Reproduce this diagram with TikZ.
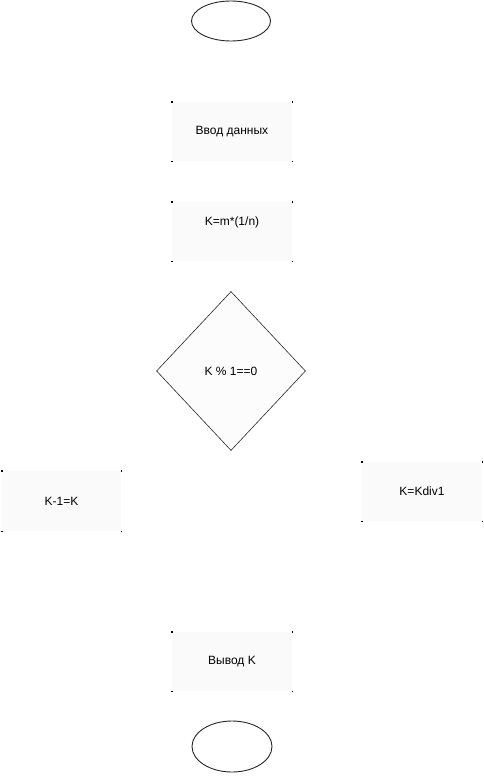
\documentclass[tikz,border=0pt]{standalone}
\usepackage{fontspec}
\setmainfont{Liberation Sans}
\usetikzlibrary{shapes.geometric}
\begin{document}
\begin{tikzpicture}[x=1pt,y=-1pt,
  blk/.style={draw=none, fill=black!2, minimum width=120pt, minimum height=59pt, inner sep=0pt, font=\fontsize{12}{14}\selectfont},
  term/.style={ellipse, draw=black!85, line width=0.9pt, fill=white, inner sep=0pt},
  dec/.style={diamond, draw=black!85, line width=0.6pt, fill=black!1, inner sep=0pt, minimum width=149pt, minimum height=159pt, font=\fontsize{12}{14}\selectfont}]
\useasboundingbox (0,0) rectangle (483,776);
\node[term, minimum width=79pt, minimum height=40pt] (start) at (231,21) {};
\node[blk] (inp) at (232,131.5) {Ввод данных};
\node[blk, text height=23.5pt, text depth=35.5pt] (calc) at (232,231.5) {K=m*(1/n)};
\node[dec] (cond) at (231,371) {K \% 1==0};
\node[blk, minimum width=119pt, minimum height=60pt] (left) at (61.5,501) {K-1=K};
\node[blk] (right) at (422,491.5) {K=Kdiv1};
\node[blk] (out) at (232,661.5) {Вывод K};
\node[term, minimum width=80pt, minimum height=51pt] (stop) at (232,746.5) {};
\foreach \n in {inp,calc,left,right,out}
  \foreach \c in {north west,north east,south west,south east}
    \fill (\n.\c) +(-0.7,-0.7) rectangle +(0.7,0.7);
\end{tikzpicture}
\end{document}
